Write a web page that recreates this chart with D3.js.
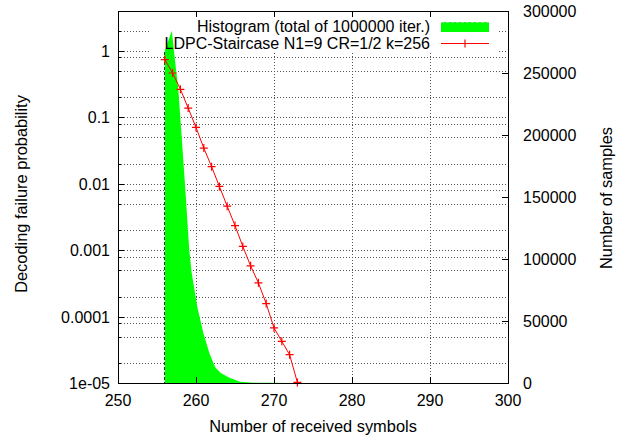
<!DOCTYPE html>
<html>
<head>
<meta charset="utf-8">
<script src="https://cdn.jsdelivr.net/npm/d3@7"></script>
<style>
  body { margin: 0; background: #fff; }
  text { font-family: "Liberation Sans", Arial, Helvetica, sans-serif; font-size: 16px; fill: #000; }
  .title { font-size: 16.4px; }
</style>
</head>
<body>
<svg id="chart" width="625" height="440"></svg>
<script>
// decoding failure probability per number of received symbols
const symbols = [256, 257, 258, 259, 260, 261, 262, 263, 264, 265, 266, 267, 268, 269, 270, 271, 272, 273]
const failProb = [0.742, 0.466, 0.265, 0.138, 0.0707, 0.0345, 0.0181, 0.00912, 0.0046, 0.00235,
  0.00114, 5.81e-4, 3.22e-4, 1.57e-4, 6.75e-5, 4.24e-5, 2.67e-5, 1.02e-5]

// histogram outline (number of samples)
const histX = [256, 256.9, 257.31, 257.73, 258.08, 258.6, 259.14, 259.45, 260.17, 260.94, 261.71,
  262.44, 263.17, 264.36, 265.64, 266.9, 268, 270, 272, 274, 275.5]
const histCount = [268000, 284000, 260000, 237000, 206000, 159000, 107000, 88700, 61300, 40300, 24200,
  12900, 8100, 4000, 1000, 400, 250, 150, 80, 40, 0]

const xTicks = [250, 260, 270, 280, 290, 300]
const yTicks = [1e-5, 1e-4, 1e-3, 1e-2, 1e-1, 1]
const yTickLabels = ['1e-05', '0.0001', '0.001', '0.01', '0.1', '1']
const y2Ticks = [0, 50000, 100000, 150000, 200000, 250000, 300000]
const gridSteps = [0.2, 0.5, 0.8, 1, 2]

const legendLabels = ['Histogram (total of 1000000 iter.)', 'LDPC-Staircase N1=9 CR=1/2 k=256']

const plotL = 118, plotR = 508, plotT = 11, plotB = 383
const svg = d3.select('#chart')

const x = d3.scaleLinear().domain([250, 300]).range([plotL, plotR])
const y = d3.scaleLog().domain([1e-5, 4]).range([plotB, plotT])
const y2 = d3.scaleLinear().domain([0, 300000]).range([plotB, plotT])

// horizontal grid (log)
const gridVals = []
yTicks.forEach(d => gridSteps.forEach(s => {
  const v = d * s
  if (v > 1e-5 && v < 4) gridVals.push(v)
}))
svg.append('g').selectAll('line')
  .data(gridVals)
  .enter().append('line')
  .attr('x1', plotL).attr('x2', plotR)
  .attr('y1', d => Math.round(y(d)) + 0.5)
  .attr('y2', d => Math.round(y(d)) + 0.5)
  .attr('stroke', '#555').attr('stroke-width', 1)
  .attr('stroke-dasharray', '1,2')

// vertical grid
svg.append('g').selectAll('line')
  .data(xTicks.slice(1, -1))
  .enter().append('line')
  .attr('x1', d => Math.round(x(d)) + 0.5).attr('x2', d => Math.round(x(d)) + 0.5)
  .attr('y1', plotT).attr('y2', plotB)
  .attr('stroke', '#555').attr('stroke-width', 1)
  .attr('stroke-dasharray', '1,2')

// legend background hides the grid
const legTop = 14, legBottom = 52
svg.append('rect')
  .attr('x', 150).attr('y', legTop)
  .attr('width', 498 - 150).attr('height', legBottom - legTop)
  .attr('fill', '#fff')

// histogram
const area = d3.area()
  .x((d, i) => x(histX[i]))
  .y0(y2(0))
  .y1(d => y2(d))
svg.append('path')
  .datum(histCount)
  .attr('d', area)
  .attr('fill', '#00ff00')

svg.append('line')
  .attr('x1', Math.round(x(histX[0])) - 0.5).attr('x2', Math.round(x(histX[0])) - 0.5)
  .attr('y1', legBottom).attr('y2', plotB)
  .attr('stroke', '#333').attr('stroke-dasharray', '3,2')

// failure probability curve
const line = d3.line()
  .x((d, i) => x(symbols[i]))
  .y(d => y(d))
svg.append('path')
  .datum(failProb)
  .attr('d', line)
  .attr('fill', 'none')
  .attr('stroke', '#ff0000')
  .attr('stroke-width', 1)

const plus = (g, cx, cy) => {
  g.append('path')
    .attr('d', `M${cx - 4},${cy}H${cx + 4}M${cx},${cy - 4}V${cy + 4}`)
    .attr('stroke', '#ff0000').attr('stroke-width', 1.2)
}
const marks = svg.append('g')
failProb.forEach((d, i) => plus(marks, x(symbols[i]), y(d)))

// frame
svg.append('rect')
  .attr('x', plotL + 0.5).attr('y', plotT + 0.5)
  .attr('width', plotR - plotL).attr('height', plotB - plotT)
  .attr('fill', 'none').attr('stroke', '#000').attr('stroke-width', 1)

const ticks = svg.append('g').attr('stroke', '#000').attr('stroke-width', 1)
xTicks.forEach(d => {
  const px = Math.round(x(d)) + 0.5
  ticks.append('line').attr('x1', px).attr('x2', px).attr('y1', plotB).attr('y2', plotB - 6)
  ticks.append('line').attr('x1', px).attr('x2', px).attr('y1', plotT).attr('y2', plotT + 6)
})
yTicks.forEach(d => {
  const py = Math.round(y(d)) + 0.5
  ticks.append('line').attr('x1', plotL).attr('x2', plotL + 6).attr('y1', py).attr('y2', py)
})
gridVals.filter(d => !yTicks.includes(d)).forEach(d => {
  const py = Math.round(y(d)) + 0.5
  ticks.append('line').attr('x1', plotL).attr('x2', plotL + 3).attr('y1', py).attr('y2', py)
})
y2Ticks.forEach(d => {
  const py = Math.round(y2(d)) + 0.5
  ticks.append('line').attr('x1', plotR).attr('x2', plotR - 6).attr('y1', py).attr('y2', py)
})

// tick labels
svg.append('g').selectAll('text')
  .data(xTicks)
  .enter().append('text')
  .attr('x', d => x(d)).attr('y', 406)
  .attr('text-anchor', 'middle')
  .text(d => d)

svg.append('g').selectAll('text')
  .data(yTicks)
  .enter().append('text')
  .attr('x', 110).attr('y', d => y(d) + 6)
  .attr('text-anchor', 'end')
  .text((d, i) => yTickLabels[i])

svg.append('g').selectAll('text')
  .data(y2Ticks)
  .enter().append('text')
  .attr('x', 523).attr('y', d => y2(d) + 6)
  .text(d => d)

// axis titles
svg.append('text')
  .attr('class', 'title')
  .attr('x', (plotL + plotR) / 2).attr('y', 432)
  .attr('text-anchor', 'middle')
  .text('Number of received symbols')
svg.append('text')
  .attr('class', 'title')
  .attr('transform', 'translate(27,194) rotate(-90)')
  .attr('text-anchor', 'middle')
  .text('Decoding failure probability')
svg.append('text')
  .attr('class', 'title')
  .attr('transform', 'translate(612,198) rotate(-90)')
  .attr('text-anchor', 'middle')
  .text('Number of samples')

// legend
const legend = svg.append('g').attr('class', 'legend')
legend.selectAll('text')
  .data(legendLabels)
  .enter().append('text')
  .attr('x', 430).attr('y', (d, i) => 32 + i * 16.5)
  .attr('text-anchor', 'end')
  .text(d => d)
legend.append('rect')
  .attr('x', 441).attr('y', 22).attr('width', 48).attr('height', 10)
  .attr('fill', '#00ff00')
legend.append('line')
  .attr('x1', 441).attr('x2', 489).attr('y1', 22.5).attr('y2', 22.5)
  .attr('stroke', '#7fdf7f').attr('stroke-dasharray', '3,2')
legend.append('line')
  .attr('x1', 441).attr('x2', 489).attr('y1', 43.5).attr('y2', 43.5)
  .attr('stroke', '#ff0000')
plus(legend, 465, 43.5)
</script>
</body>
</html>
